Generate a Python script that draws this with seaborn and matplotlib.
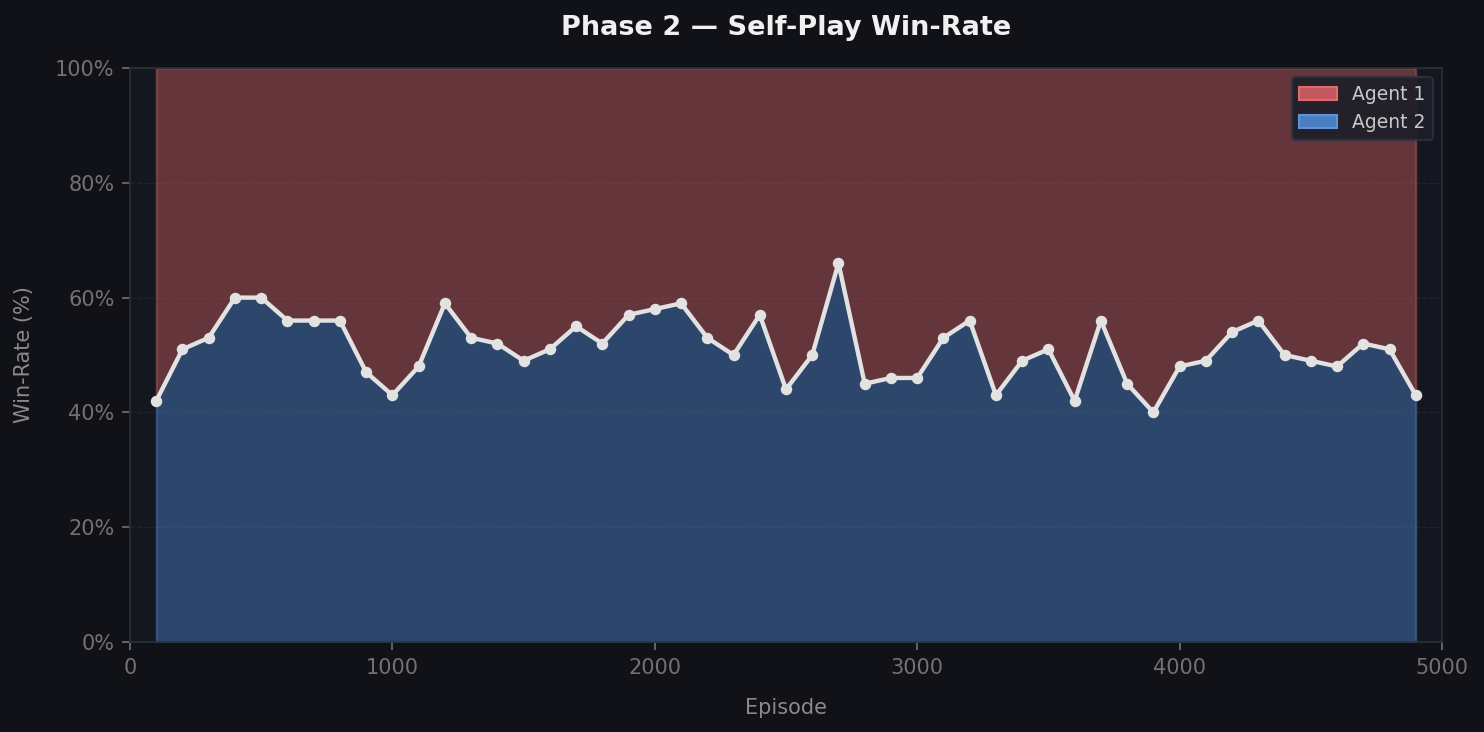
import numpy as np
import pandas as pd
import matplotlib
matplotlib.use("Agg")
import matplotlib.pyplot as plt
from matplotlib.patches import Patch
from matplotlib.ticker import FuncFormatter
import seaborn as sns

episodes = list(range(100, 5000, 100))
agent2_win = [42, 51, 53, 60, 60, 56, 56, 56, 47, 43,
              48, 59, 53, 52, 49, 51, 55, 52, 57, 58,
              59, 53, 50, 57, 44, 50, 66, 45, 46, 46,
              53, 56, 43, 49, 51, 42, 56, 45, 40, 48,
              49, 54, 56, 50, 49, 48, 52, 51, 43]
agent1_win = [100 - v for v in agent2_win]
series_labels = ["Agent 1", "Agent 2"]
y_ticks = [0, 20, 40, 60, 80, 100]
x_ticks = [0, 1000, 2000, 3000, 4000, 5000]

df = pd.DataFrame({"Episode": episodes, "Agent 2": agent2_win, "Agent 1": agent1_win})

sns.set_theme(style="dark")
fig_bg = "#111217"
ax_bg = "#141720"
red = "#c2585d"
blue = "#4a7ec2"
DPI = 150

fig, ax = plt.subplots(figsize=(1484 / DPI, 732 / DPI), dpi=DPI)
fig.patch.set_facecolor(fig_bg)
ax.set_facecolor(ax_bg)
fig.subplots_adjust(left=130/1484, right=1442/1484, top=1-68/732, bottom=1-642/732)

polys = ax.stackplot(df["Episode"], df["Agent 2"], df["Agent 1"],
                     colors=[blue, red], alpha=0.47, linewidth=1.0, zorder=1)
polys[0].set_edgecolor("#4a7ec2")
polys[1].set_edgecolor("#c2585d")

sns.lineplot(data=df, x="Episode", y="Agent 2", ax=ax, color="#e2e2e2",
             linewidth=2.1, marker="o", markersize=5.5, markeredgewidth=0,
             zorder=3)

ax.set_xlim(0, 5000)
ax.set_ylim(0, 100)
ax.set_xticks(x_ticks)
ax.set_yticks(y_ticks)
ax.yaxis.set_major_formatter(FuncFormatter(lambda v, p: f"{int(v)}%"))
ax.grid(axis="y", color="#ffffff", alpha=0.06, linestyle="--", linewidth=0.6)
ax.grid(axis="x", visible=False)

tick_color = "#727272"
ax.tick_params(axis="both", colors=tick_color, labelsize=10, length=4, width=0.8,
               pad=3.5, bottom=True, left=True)
for s in ax.spines.values():
    s.set_color("#2b2f3a")
    s.set_linewidth(0.8)

ax.set_xlabel("Episode", color="#8a8a8a", fontsize=10, labelpad=10)
ax.set_ylabel("Win-Rate (%)", color="#8a8a8a", fontsize=10, labelpad=10)
ax.set_title("Phase 2 \u2014 Self-Play Win-Rate", color="#f0f0f0", fontsize=13,
             fontweight="bold", pad=16)

handles = [Patch(facecolor=red, edgecolor="#e06a6e", label=series_labels[0]),
           Patch(facecolor=blue, edgecolor="#5f92d8", label=series_labels[1])]
leg = ax.legend(handles=handles, loc="upper right", fontsize=9,
                facecolor="#1c1e28", edgecolor="#2e3240", framealpha=0.9,
                labelcolor="#c8c8c8")

fig.savefig("out.png", dpi=DPI, facecolor=fig_bg)
